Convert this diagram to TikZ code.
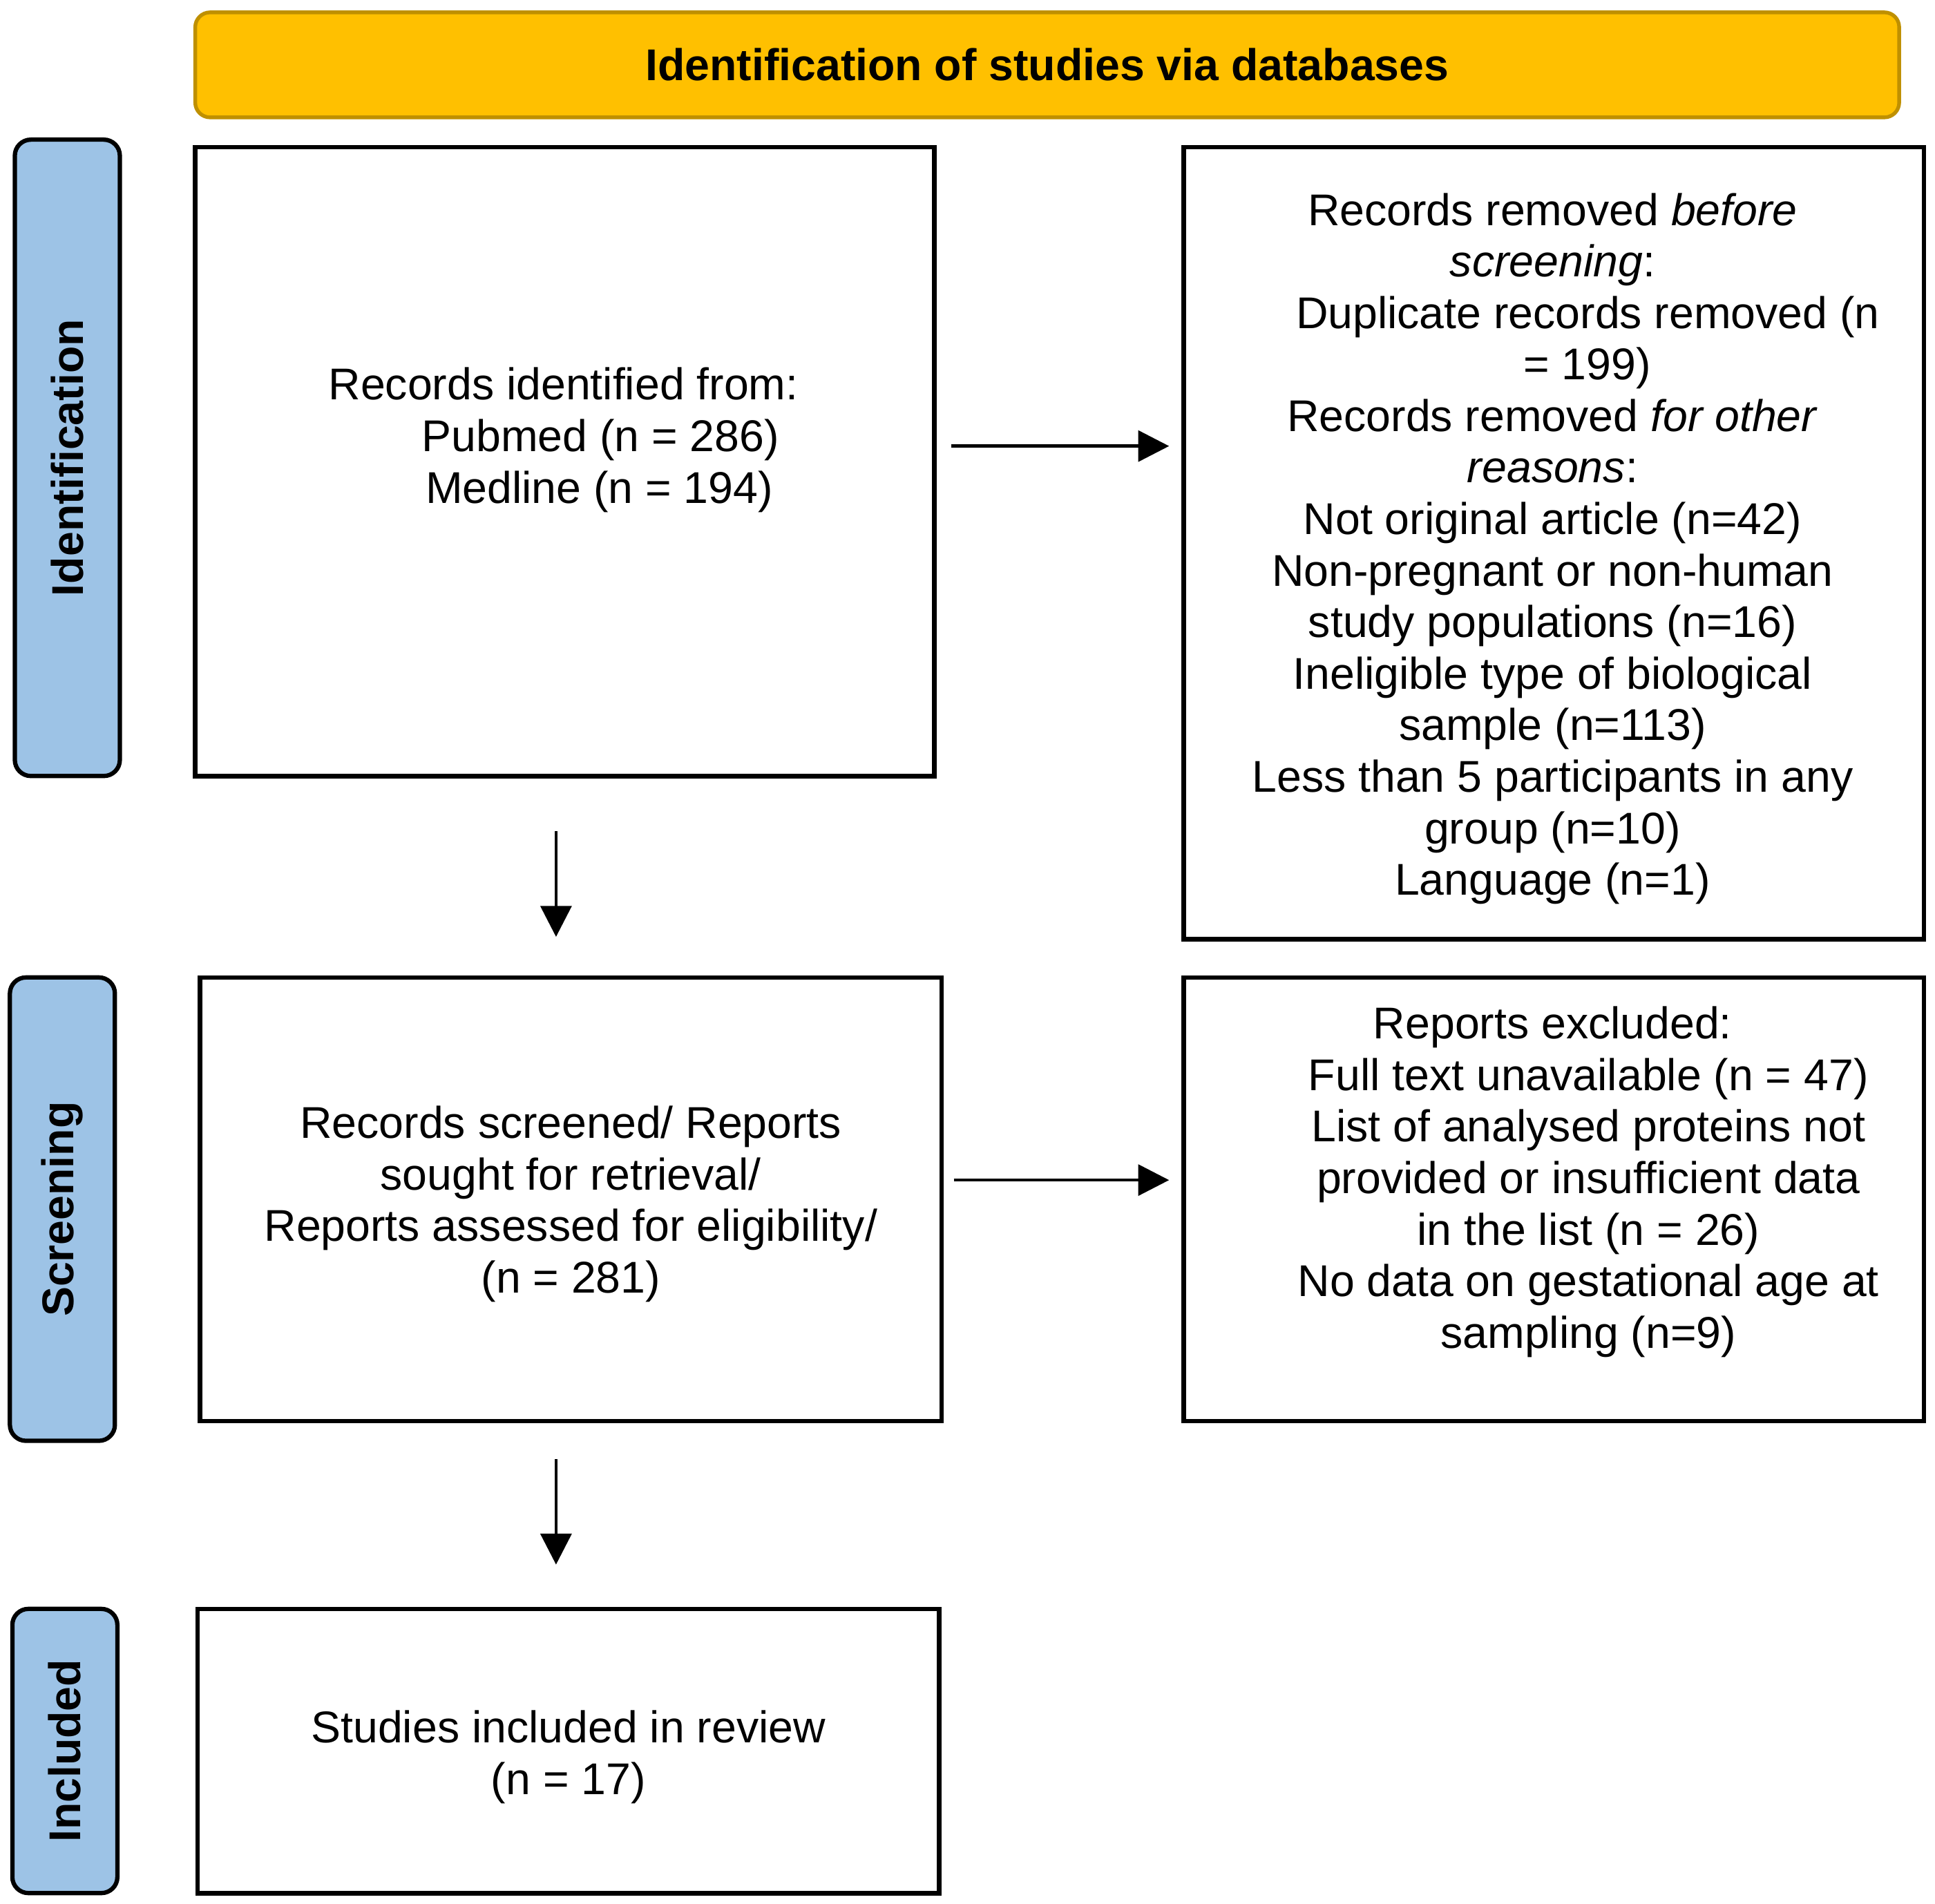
\documentclass[tikz,border=0pt]{standalone}
\usepackage{fontspec}
\setmainfont{Liberation Sans}
\usetikzlibrary{arrows.meta,calc}
\definecolor{hdrfill}{HTML}{FFC000}
\definecolor{hdrdraw}{HTML}{BF9000}
\definecolor{sidefill}{HTML}{9DC3E6}
\begin{document}
\begin{tikzpicture}[x=1pt,y=-1pt,
  txt/.style={font=\fontsize{36}{41.7}\selectfont, align=center, inner sep=0pt},
  box/.style={draw=black, line width=3.7pt, fill=white, inner sep=0pt, rectangle},
  sidelabel/.style={draw=black, line width=3.5pt, fill=sidefill, rounded corners=13pt, rotate=90, inner sep=0pt, minimum height=85pt, font=\fontsize{36}{41.7}\selectfont\bfseries},
  header/.style={draw=hdrdraw, line width=3pt, fill=hdrfill, rounded corners=12pt, inner sep=0pt, font=\fontsize{36}{41.7}\selectfont\bfseries},
  flow/.style={draw=black, line width=2.6pt, -{Triangle[length=25pt,width=25pt]}}
]
\useasboundingbox (0,0) rectangle (1566,1540.8);

% header
\node[header, minimum width=1379pt, minimum height=85pt] (hdr) at (847.5,52.5) {Identification of studies via databases};

% side labels
\node[sidelabel, minimum width=515pt] (sid) at (54.5,370.5) {Identification};
\node[sidelabel, minimum width=375pt] (sscr) at (50.5,978.5) {Screening};
\node[sidelabel, minimum width=230pt] (sinc) at (52.5,1417) {Included};

% boxes
\node[box, minimum width=598pt, minimum height=509pt] (a) at (457,373.5) {};
\node[box, minimum width=599pt, minimum height=641pt] (b) at (1257.5,439.5) {};
\node[box, minimum width=600pt, minimum height=359pt] (c) at (462,970.5) {};
\node[box, minimum width=599pt, minimum height=359pt] (d) at (1257.5,970.5) {};
\node[box, minimum width=600pt, minimum height=230pt] (e) at (460,1417) {};

% texts
\node[txt] (atext) at (456,356) {Records identified from:\\\hspace*{60pt}Pubmed (n = 286)\\\hspace*{58pt}Medline (n = 194)};
\node[txt] (btext) at (1256.5,444) {Records removed \textit{before}\\\textit{screening}:\\\hspace*{57pt}Duplicate records removed (n\\\hspace*{56pt}= 199)\\Records removed \textit{for other}\\\textit{reasons}:\\Not original article (n=42)\\Non-pregnant or non-human\\study populations (n=16)\\Ineligible type of biological\\sample (n=113)\\Less than 5 participants in any\\group (n=10)\\Language (n=1)};
\node[txt] (ctext) at (462,974.5) {Records screened/ Reports\\sought for retrieval/\\Reports assessed for eligibility/\\(n = 281)};
\node[txt] (dtext) at (1256.5,956.5) {Reports excluded:\\\hspace*{58pt}Full text unavailable (n = 47)\\\hspace*{58pt}List of analysed proteins not\\\hspace*{58pt}provided or insufficient data\\\hspace*{58pt}in the list (n = 26)\\\hspace*{58pt}No data on gestational age at\\\hspace*{58pt}sampling (n=9)};
\node[txt] (etext) at (460,1422) {Studies included in review\\(n = 17)};

% connectors
\coordinate (abrow) at (0,361);
\coordinate (cdrow) at (0,955);
\coordinate (vcol) at (450,0);
\draw[flow, shorten <=12pt, shorten >=10pt] (a.east |- abrow) -- (b.west |- abrow);
\draw[flow, shorten <=8pt, shorten >=10pt] (c.east |- cdrow) -- (d.west |- cdrow);
\draw[flow, shorten <=43pt, shorten >=31pt] (a.south -| vcol) -- (c.north -| vcol);
\draw[flow, shorten <=29pt, shorten >=34pt] (c.south -| vcol) -- (e.north -| vcol);
\end{tikzpicture}
\end{document}
